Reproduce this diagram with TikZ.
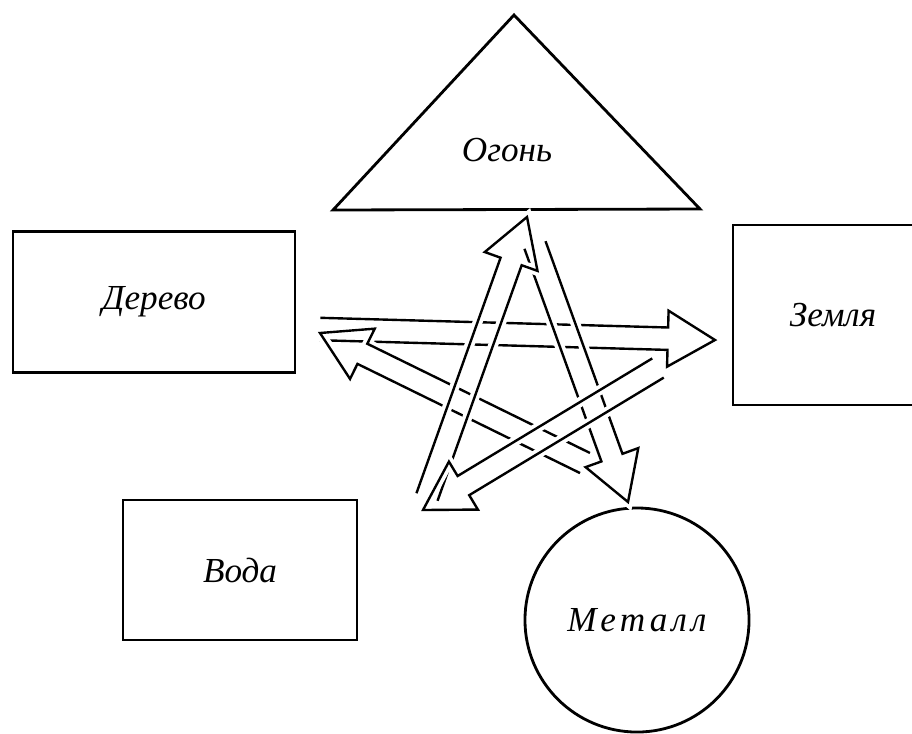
\documentclass[tikz,border=0pt]{standalone}
\usepackage{fontspec}
\setmainfont{Liberation Serif}
\usepackage{tikz}
\usetikzlibrary{calc}
\newcommand\shaftw{0.28cm}
\newcommand\headw{0.7cm}
\newcommand\headl{1.18cm}
\begin{document}
\begin{tikzpicture}[x=0.025cm,y=-0.025cm,
		elem/.style={draw,line width=2pt,inner sep=0pt,
			font=\fontsize{25}{30}\selectfont\itshape},
		elemtext/.style={font=\fontsize{25}{30}\selectfont\itshape},
		hollow/.style={draw,line width=1.7pt,line join=miter,
			preaction={draw=white,line width=7pt},
			to path={
				($(\tikztotarget)!\headl!(\tikztostart)$) coordinate (neck)
				($(\tikztostart)!\shaftw!90:(\tikztotarget)$)
				-- ($(neck)!\shaftw!90:(\tikztotarget)$)
				-- ($(neck)!\headw!90:(\tikztotarget)$)
				-- (\tikztotarget)
				-- ($(neck)!\headw!-90:(\tikztotarget)$)
				-- ($(neck)!\shaftw!-90:(\tikztotarget)$)
				-- ($(\tikztostart)!\shaftw!-90:(\tikztotarget)$)}}]
	\useasboundingbox (0,0) rectangle (912,733);
	% elements
	\draw[line width=2pt,line join=miter] (514,15) -- (333,210) -- (700,209) -- cycle;
	\node[elemtext] (fire) at (507,150) {Огонь};
	\node[elem,minimum width=7.05cm,minimum height=3.525cm] (wood) at (154,302) {Дерево};
	\node[elem,minimum width=5cm,minimum height=4.5cm] (earth) at (833,315) {Земля};
	\node[elem,minimum width=5.85cm,minimum height=3.5cm] (water) at (240,570) {Вода};
	\node[elem,circle,minimum size=5.6cm] (metal) at (637,620)
		{\addfontfeature{LetterSpace=12}Металл};
	% star
	\coordinate (vFire) at (527,217);
	\coordinate (vEarth) at (715,340);
	\coordinate (vWood) at (320,333);
	\coordinate (vMetal) at (628,502);
	\coordinate (vWater) at (423,510);
	\coordinate (tFire) at (535,245);
	\coordinate (tEarth) at (658,368);
	\coordinate (tWood) at (320,329);
	\coordinate (tMetal) at (585,463);
	\coordinate (tWater) at (427,497);
	\draw[hollow] (tWood) to (vEarth);
	\draw[hollow] (tMetal) to (vWood);
	\draw[hollow] (tFire) to (vMetal);
	\draw[hollow] (tWater) to (vFire);
	\draw[hollow] (tEarth) to (vWater);
\end{tikzpicture}
\end{document}
